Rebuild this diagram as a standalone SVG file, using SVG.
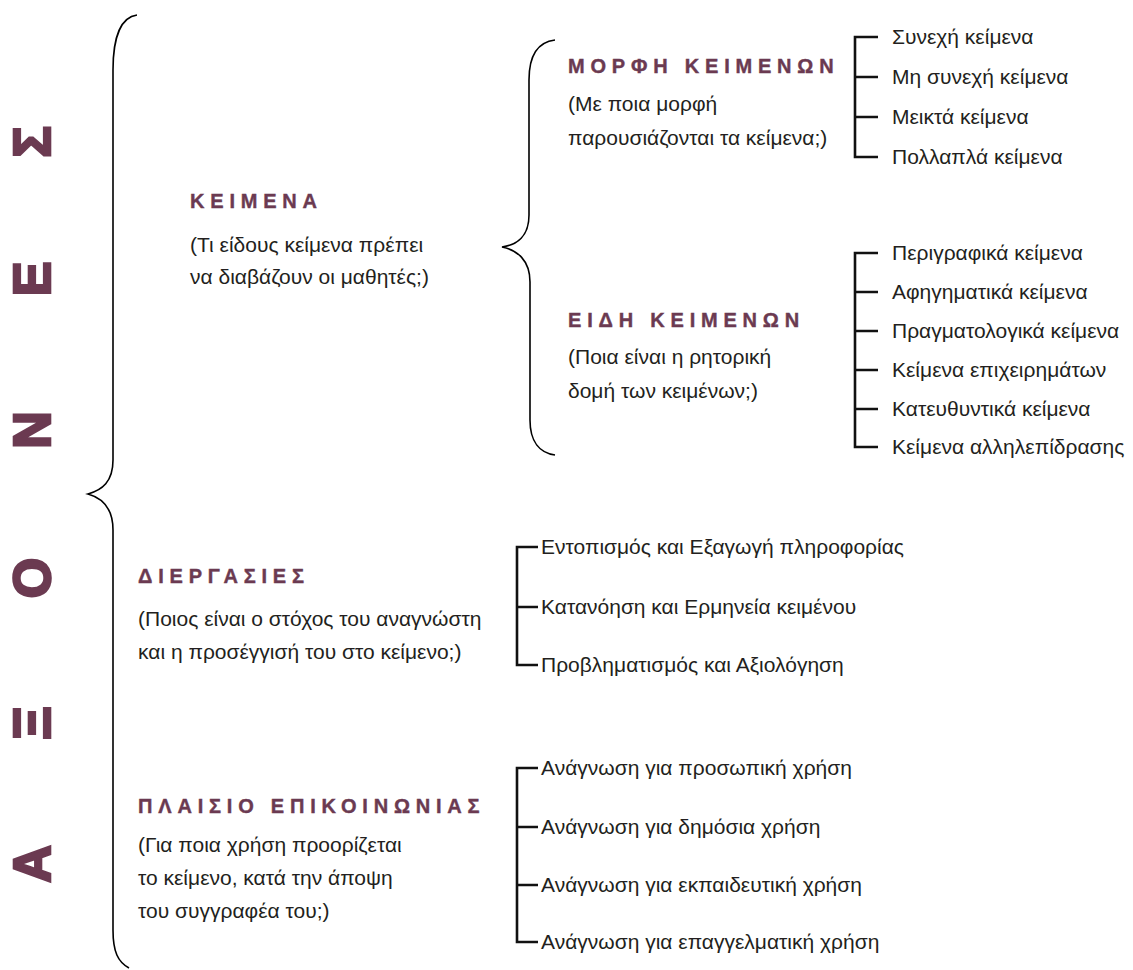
<svg xmlns="http://www.w3.org/2000/svg" width="1133" height="970" viewBox="0 0 1133 970">
<style>
.ax{font-family:"Liberation Sans",Arial,sans-serif;font-weight:bold;font-size:52px;fill:#6b3a51;stroke:#6b3a51;stroke-width:2.6;stroke-linejoin:miter}
.h{font-family:"Liberation Sans",Arial,sans-serif;font-weight:bold;font-size:20px;letter-spacing:5.8px;fill:#6b3a51;stroke:#6b3a51;stroke-width:0.4}
.t{font-family:"Liberation Sans",Arial,sans-serif;font-size:21px;fill:#231f20}
.brace{fill:none;stroke:#000;stroke-width:1.6}
.br{fill:none;stroke:#111;stroke-width:2.6}
</style>
<rect width="1133" height="970" fill="#fff"/>
<g id="axes-title">
<text class="ax" text-anchor="middle" transform="translate(50,142) rotate(-90)">Σ</text>
<text class="ax" text-anchor="middle" transform="translate(50,279) rotate(-90)">Ε</text>
<text class="ax" text-anchor="middle" transform="translate(50,430) rotate(-90)">Ν</text>
<text class="ax" text-anchor="middle" transform="translate(50,578) rotate(-90)">Ο</text>
<text class="ax" text-anchor="middle" transform="translate(50,723) rotate(-90)">Ξ</text>
<text class="ax" text-anchor="middle" transform="translate(50,864) rotate(-90)">Α</text>
</g>
<g id="connectors">
<path class="brace" d="M137,15 C122,17 113,35 113,70 L113,460 C113,482 102,490 88,494 C102,498 113,508 113,530 L113,930 C113,952 118,962 129,968"/>
<path class="brace" d="M555,40 C538,42 529,55 529,80 L529,215 C529,236 517,245 502,247 C517,250 530,260 530,282 L530,420 C530,442 540,453 555,455"/>
<path class="br" d="M878,37 H855 V157 H878 M855,77 H878 M855,117 H878"/>
<path class="br" d="M878,253 H855 V447 H878 M855,292 H878 M855,331 H878 M855,370 H878 M855,409 H878"/>
<path class="br" d="M538,547 H517 V665 H538 M517,607 H538"/>
<path class="br" d="M538,768 H517 V942 H538 M517,827 H538 M517,885 H538"/>
</g>
<g id="keimena">
<text class="h" x="190" y="208">ΚΕΙΜΕΝΑ</text>
<text class="t" x="190" y="252">(Τι είδους κείμενα πρέπει</text>
<text class="t" x="190" y="284">να διαβάζουν οι μαθητές;)</text>
</g>
<g id="morfi">
<text class="h" x="568" y="73">ΜΟΡΦΗ ΚΕΙΜΕΝΩΝ</text>
<text class="t" x="568" y="111">(Με ποια μορφή</text>
<text class="t" x="568" y="145">παρουσιάζονται τα κείμενα;)</text>
</g>
<g id="morfi-items">
<text class="t" x="892" y="44">Συνεχή κείμενα</text>
<text class="t" x="892" y="84">Μη συνεχή κείμενα</text>
<text class="t" x="892" y="124">Μεικτά κείμενα</text>
<text class="t" x="892" y="164">Πολλαπλά κείμενα</text>
</g>
<g id="eidi">
<text class="h" x="568" y="327">ΕΙΔΗ ΚΕΙΜΕΝΩΝ</text>
<text class="t" x="568" y="364">(Ποια είναι η ρητορική</text>
<text class="t" x="568" y="398">δομή των κειμένων;)</text>
</g>
<g id="eidi-items">
<text class="t" x="892" y="260">Περιγραφικά κείμενα</text>
<text class="t" x="892" y="299">Αφηγηματικά κείμενα</text>
<text class="t" x="892" y="338">Πραγματολογικά κείμενα</text>
<text class="t" x="892" y="377">Κείμενα επιχειρημάτων</text>
<text class="t" x="892" y="416">Κατευθυντικά κείμενα</text>
<text class="t" x="892" y="454">Κείμενα αλληλεπίδρασης</text>
</g>
<g id="diergasies">
<text class="h" x="138" y="583">ΔΙΕΡΓΑΣΙΕΣ</text>
<text class="t" x="138" y="626">(Ποιος είναι ο στόχος του αναγνώστη</text>
<text class="t" x="138" y="659">και η προσέγγισή του στο κείμενο;)</text>
</g>
<g id="diergasies-items">
<text class="t" x="541" y="554">Εντοπισμός και Εξαγωγή πληροφορίας</text>
<text class="t" x="541" y="614">Κατανόηση και Ερμηνεία κειμένου</text>
<text class="t" x="541" y="672">Προβληματισμός και Αξιολόγηση</text>
</g>
<g id="plaisio">
<text class="h" x="138" y="813">ΠΛΑΙΣΙΟ ΕΠΙΚΟΙΝΩΝΙΑΣ</text>
<text class="t" x="138" y="852">(Για ποια χρήση προορίζεται</text>
<text class="t" x="138" y="885">το κείμενο, κατά την άποψη</text>
<text class="t" x="138" y="918">του συγγραφέα του;)</text>
</g>
<g id="plaisio-items">
<text class="t" x="541" y="775">Ανάγνωση για προσωπική χρήση</text>
<text class="t" x="541" y="834">Ανάγνωση για δημόσια χρήση</text>
<text class="t" x="541" y="892">Ανάγνωση για εκπαιδευτική χρήση</text>
<text class="t" x="541" y="949">Ανάγνωση για επαγγελματική χρήση</text>
</g>
</svg>
